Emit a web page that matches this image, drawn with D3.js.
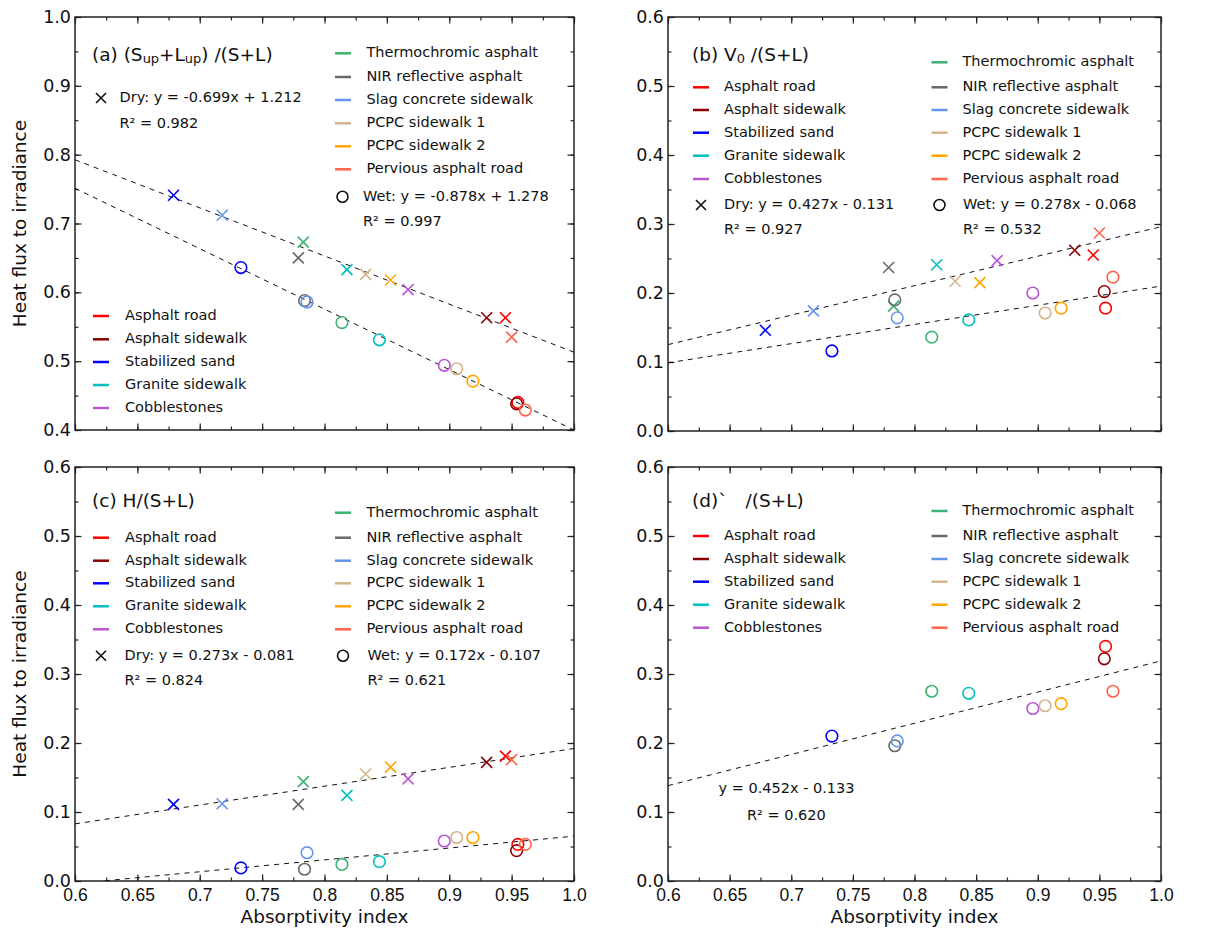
<!DOCTYPE html>
<html>
<head>
<meta charset="utf-8">
<script src="https://cdn.jsdelivr.net/npm/d3@7"></script>
<style>
  html, body { margin: 0; padding: 0; background: #fff; }
  svg { display: block; font-family: "DejaVu Sans", sans-serif; }
</style>
</head>
<body>
<svg id="chart" width="1228" height="932"></svg>
<script>
// ---------------- DATA ----------------
const materials = ["Asphalt road", "Asphalt sidewalk", "Stabilized sand", "Granite sidewalk", "Cobblestones",
  "Thermochromic asphalt", "NIR reflective asphalt", "Slag concrete sidewalk", "PCPC sidewalk 1", "PCPC sidewalk 2", "Pervious asphalt road"];
const colors = ["#ff0000", "#8b0000", "#0000ff", "#00bfbf", "#ba55d3",
  "#3cb371", "#696969", "#6495ed", "#d2b48c", "#ffa500", "#ff6347"];

// absorptivity index (x) for dry and wet conditions
const dryX = [0.945, 0.930, 0.679, 0.818, 0.867, 0.783, 0.779, 0.718, 0.833, 0.853, 0.950];
const wetX = [0.955, 0.954, 0.733, 0.844, 0.896, 0.814, 0.784, 0.786, 0.906, 0.919, 0.961];

// (a) (Sup+Lup)/(S+L)
const aDry = [0.563, 0.563, 0.741, 0.633, 0.604, 0.673, 0.650, 0.712, 0.626, 0.618, 0.535];
const aWet = [0.440, 0.438, 0.636, 0.531, 0.494, 0.556, 0.588, 0.586, 0.489, 0.471, 0.429];
// (b) V0/(S+L)
const bDry = [0.255, 0.262, 0.146, 0.241, 0.247, 0.181, 0.237, 0.174, 0.217, 0.215, 0.287];
const bWet = [0.178, 0.202, 0.116, 0.161, 0.200, 0.136, 0.190, 0.164, 0.171, 0.178, 0.223];
// (c) H/(S+L)
const cDry = [0.181, 0.172, 0.111, 0.124, 0.148, 0.144, 0.111, 0.112, 0.155, 0.165, 0.176];
const cWet = [0.053, 0.044, 0.019, 0.028, 0.058, 0.024, 0.017, 0.041, 0.063, 0.063, 0.053];
// (d)
const dWet = [0.340, 0.322, 0.210, 0.272, 0.250, 0.275, 0.196, 0.203, 0.254, 0.257, 0.275];

// regression fits [slope, intercept]
const aDryFit = [-0.699, 1.212], aWetFit = [-0.878, 1.278];
const bDryFit = [0.427, -0.131], bWetFit = [0.278, -0.068];
const cDryFit = [0.273, -0.081], cWetFit = [0.172, -0.107];
const dWetFit = [0.452, -0.133];

const xTicks = [0.6, 0.65, 0.7, 0.75, 0.8, 0.85, 0.9, 0.95, 1.0];
const xTickLabels = ["0.6", "0.65", "0.7", "0.75", "0.8", "0.85", "0.9", "0.95", "1.0"];
const yTicksA = [0.4, 0.5, 0.6, 0.7, 0.8, 0.9, 1.0];
const yTicksB = [0.0, 0.1, 0.2, 0.3, 0.4, 0.5, 0.6];

const xLabel = "Absorptivity index";
const yLabel = "Heat flux to irradiance";

// ---------------- LAYOUT ----------------
const svg = d3.select("#chart");
const LEG_FS = 14.5, TICK_FS = 17.5, LABEL_FS = 18.5, TITLE_FS = 18.5;

const leftIdx = [0, 1, 2, 3, 4];
const rightIdx = [5, 6, 7, 8, 9, 10];

const panels = [
  { x0: 75, x1: 574, y0: 17, y1: 430, yDomain: [0.4, 1.0], yTicks: yTicksA, xLabels: false, yLab: true,
    dry: aDry, wet: aWet, dryFit: aDryFit, wetFit: aWetFit,
    title: [{t: "(a) (S"}, {t: "up", sub: true}, {t: "+L"}, {t: "up", sub: true}, {t: ") /(S+L)"}],
    titlePos: [92, 56],
    left: { sx: 93, tx: 125, ys: [316, 339.3, 362, 385, 408] },
    right: { sx: 335, tx: 366.5, ys: [53.3, 77, 100, 123.3, 146.3, 169.3] },
    dryLeg: { mx: 101, tx: 119.5, y: 98, r2y: 124, eq: "Dry: y = -0.699x + 1.212", r2: "R\u00b2 = 0.982" },
    wetLeg: { mx: 342.5, tx: 363, y: 196.7, r2y: 221.7, eq: "Wet: y = -0.878x + 1.278", r2: "R\u00b2 = 0.997" } },
  { x0: 668, x1: 1161, y0: 17, y1: 431, yDomain: [0.0, 0.6], yTicks: yTicksB, xLabels: false, yLab: false,
    dry: bDry, wet: bWet, dryFit: bDryFit, wetFit: bWetFit,
    title: [{t: "(b) V"}, {t: "0", sub: true}, {t: " /(S+L)"}],
    titlePos: [692, 56],
    left: { sx: 693, tx: 724, ys: [87.3, 110, 132.7, 155.7, 179] },
    right: { sx: 931.5, tx: 962.5, ys: [62.3, 87.3, 110, 132.7, 155.7, 179] },
    dryLeg: { mx: 701, tx: 724, y: 205, r2y: 230, eq: "Dry: y = 0.427x - 0.131", r2: "R\u00b2 = 0.927" },
    wetLeg: { mx: 939.5, tx: 963, y: 205, r2y: 230, eq: "Wet: y = 0.278x - 0.068", r2: "R\u00b2 = 0.532" } },
  { x0: 75, x1: 574, y0: 467, y1: 881, yDomain: [0.0, 0.6], yTicks: yTicksB, xLabels: true, yLab: true,
    dry: cDry, wet: cWet, dryFit: cDryFit, wetFit: cWetFit,
    title: [{t: "(c) H/(S+L)"}],
    titlePos: [92, 502],
    left: { sx: 93, tx: 125, ys: [537.7, 560.7, 583.3, 606.3, 629.3] },
    right: { sx: 335, tx: 366.5, ys: [512.7, 537.7, 560.7, 583.3, 606.3, 629.3] },
    dryLeg: { mx: 101, tx: 124.5, y: 655.7, r2y: 680.7, eq: "Dry: y = 0.273x - 0.081", r2: "R\u00b2 = 0.824" },
    wetLeg: { mx: 343, tx: 367.5, y: 655.7, r2y: 680.7, eq: "Wet: y = 0.172x - 0.107", r2: "R\u00b2 = 0.621" } },
  { x0: 668, x1: 1161, y0: 467, y1: 881, yDomain: [0.0, 0.6], yTicks: yTicksB, xLabels: true, yLab: false,
    dry: null, wet: dWet, dryFit: null, wetFit: dWetFit,
    title: [{t: "(d)`"}, {t: "/(S+L)", dx: 18}],
    titlePos: [692, 502],
    left: { sx: 693, tx: 724, ys: [536, 559, 581.7, 604.7, 627.7] },
    right: { sx: 931.5, tx: 962.5, ys: [511, 536, 559, 581.7, 604.7, 627.7] },
    dryLeg: null,
    wetLeg: null,
    eqD: { x: 718.5, y: 789.3, t: "y = 0.452x - 0.133", r2x: 747, r2y: 815.7, r2: "R\u00b2 = 0.620" } }
];

let clipId = 0;
function xMark(g, cx, cy, s, color) {
  g.append("path")
    .attr("d", `M${cx - s},${cy - s}L${cx + s},${cy + s}M${cx - s},${cy + s}L${cx + s},${cy - s}`)
    .attr("stroke", color).attr("stroke-width", 1.6).attr("fill", "none");
}
function oMark(g, cx, cy, r, color) {
  g.append("circle").attr("cx", cx).attr("cy", cy).attr("r", r)
    .attr("stroke", color).attr("stroke-width", 1.6).attr("fill", "none");
}

panels.forEach(p => {
  const x = d3.scaleLinear().domain([0.6, 1.0]).range([p.x0, p.x1]);
  const y = d3.scaleLinear().domain(p.yDomain).range([p.y1, p.y0]);
  const g = svg.append("g");

  const cid = "clip" + (clipId++);
  svg.append("clipPath").attr("id", cid).append("rect")
    .attr("x", p.x0).attr("y", p.y0).attr("width", p.x1 - p.x0).attr("height", p.y1 - p.y0);

  const xMinor = d3.range(0.6, 1.0001, 0.025);
  const yMinor = d3.range(p.yDomain[0], p.yDomain[1] + 0.0001, 0.05);
  const axB = d3.axisBottom(x).tickValues(xMinor).tickSize(-3.5).tickFormat("");
  const axBM = d3.axisBottom(x).tickValues(xTicks).tickSize(-6.5).tickFormat("");
  const axT = d3.axisTop(x).tickValues(xMinor).tickSize(-3.5).tickFormat("");
  const axTM = d3.axisTop(x).tickValues(xTicks).tickSize(-6.5).tickFormat("");
  const axL = d3.axisLeft(y).tickValues(yMinor).tickSize(-3.5).tickFormat("");
  const axLM = d3.axisLeft(y).tickValues(p.yTicks).tickSize(-6.5).tickFormat(d3.format(".1f"));
  const axR = d3.axisRight(y).tickValues(yMinor).tickSize(-3.5).tickFormat("");
  const axRM = d3.axisRight(y).tickValues(p.yTicks).tickSize(-6.5).tickFormat("");

  const addAxis = (ax, tr) => {
    const a = g.append("g").attr("transform", tr).call(ax);
    a.select(".domain").remove();
    a.selectAll("line").attr("stroke", "#222").attr("stroke-width", 1.2);
    a.selectAll("text").attr("font-size", TICK_FS).attr("fill", "#111").attr("font-family", "DejaVu Sans");
    return a;
  };
  addAxis(axB, `translate(0,${p.y1})`);
  const bm = addAxis(axBM, `translate(0,${p.y1})`);
  addAxis(axT, `translate(0,${p.y0})`);
  addAxis(axTM, `translate(0,${p.y0})`);
  addAxis(axL, `translate(${p.x0},0)`);
  const lm = addAxis(axLM, `translate(${p.x0},0)`);
  addAxis(axR, `translate(${p.x1},0)`);
  addAxis(axRM, `translate(${p.x1},0)`);
  lm.selectAll("text").attr("x", -4);

  if (p.xLabels) {
    bm.selectAll(".tick").append("text")
      .attr("y", 7.5).attr("dy", "0.71em")
      .attr("text-anchor", "middle").attr("font-size", TICK_FS).attr("fill", "#111")
      .text((d, i) => xTickLabels[i]);
    g.append("text").attr("x", (p.x0 + p.x1) / 2).attr("y", 918)
      .attr("text-anchor", "middle").attr("dominant-baseline", "middle")
      .attr("font-size", LABEL_FS).attr("fill", "#111").text(xLabel);
  }
  if (p.yLab) {
    g.append("text")
      .attr("transform", `translate(21,${(p.y0 + p.y1) / 2}) rotate(-90)`)
      .attr("text-anchor", "middle").attr("dominant-baseline", "middle")
      .attr("font-size", LABEL_FS).attr("fill", "#111").text(yLabel);
  }

  g.append("rect").attr("x", p.x0).attr("y", p.y0).attr("width", p.x1 - p.x0).attr("height", p.y1 - p.y0)
    .attr("fill", "none").attr("stroke", "#222").attr("stroke-width", 1.5);

  const plot = g.append("g").attr("clip-path", `url(#${cid})`);
  const line = d3.line().x(d => x(d[0])).y(d => y(d[1]));
  [p.dryFit, p.wetFit].forEach(f => {
    if (!f) return;
    const pts = [0.6, 1.0].map(v => [v, f[0] * v + f[1]]);
    plot.append("path").attr("d", line(pts)).attr("stroke", "#111").attr("stroke-width", 1)
      .attr("stroke-dasharray", "5,5").attr("fill", "none");
  });

  if (p.dry) p.dry.forEach((v, i) => xMark(plot, x(dryX[i]), y(v), 5.5, colors[i]));
  p.wet.forEach((v, i) => oMark(plot, x(wetX[i]), y(v), 5.8, colors[i]));

  const tt = g.append("text").attr("x", p.titlePos[0]).attr("y", p.titlePos[1])
    .attr("dominant-baseline", "middle").attr("font-size", TITLE_FS).attr("fill", "#111");
  p.title.forEach(s => {
    const ts = tt.append("tspan").text(s.t);
    if (s.sub) ts.attr("font-size", TITLE_FS * 0.7).attr("baseline-shift", "-28%");
    if (s.dx) ts.attr("dx", s.dx);
  });

  const legItem = (idx, col) => {
    idx.forEach((mi, k) => {
      g.append("line").attr("x1", col.sx).attr("x2", col.sx + 16).attr("y1", col.ys[k]).attr("y2", col.ys[k])
        .attr("stroke", colors[mi]).attr("stroke-width", 2.5);
      g.append("text").attr("x", col.tx).attr("y", col.ys[k]).attr("dominant-baseline", "middle")
        .attr("font-size", LEG_FS).attr("fill", "#111").text(materials[mi]);
    });
  };
  legItem(leftIdx, p.left);
  legItem(rightIdx, p.right);

  const legText = (tx, ty, s) => g.append("text").attr("x", tx).attr("y", ty).attr("dominant-baseline", "middle")
      .attr("font-size", LEG_FS).attr("fill", "#111").text(s);
  if (p.dryLeg) {
    xMark(g, p.dryLeg.mx, p.dryLeg.y, 5, "#111");
    legText(p.dryLeg.tx, p.dryLeg.y, p.dryLeg.eq);
    legText(p.dryLeg.tx, p.dryLeg.r2y, p.dryLeg.r2);
  }
  if (p.wetLeg) {
    oMark(g, p.wetLeg.mx, p.wetLeg.y, 5.5, "#111");
    legText(p.wetLeg.tx, p.wetLeg.y, p.wetLeg.eq);
    legText(p.wetLeg.tx, p.wetLeg.r2y, p.wetLeg.r2);
  }
  if (p.eqD) {
    legText(p.eqD.x, p.eqD.y, p.eqD.t);
    legText(p.eqD.r2x, p.eqD.r2y, p.eqD.r2);
  }
});
</script>
</body>
</html>
